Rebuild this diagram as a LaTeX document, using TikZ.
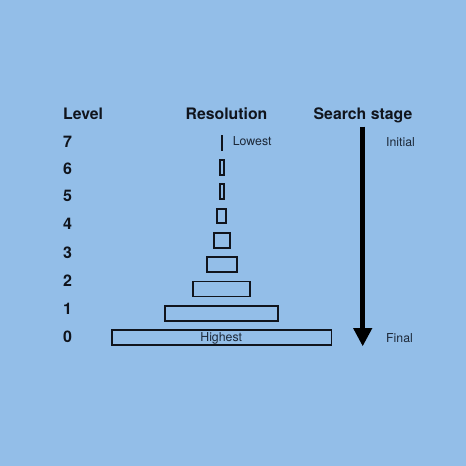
\documentclass[tikz,border=0pt]{standalone}
\usepackage{fontspec}
\setmainfont{TeX Gyre Heros}
\usetikzlibrary{arrows.meta}
\definecolor{bgblue}{RGB}{147,190,232}
\definecolor{ink}{RGB}{16,20,28}
\definecolor{softink}{RGB}{28,40,56}
\tikzset{
  head/.style={font=\fontsize{15.8}{18}\selectfont\bfseries, text=ink, inner sep=0pt, anchor=base},
  lvl/.style={font=\fontsize{16}{18}\selectfont\bfseries, text=ink, inner sep=0pt, anchor=west},
  small/.style={font=\fontsize{12.3}{14}\selectfont, text=softink, inner sep=0pt},
  res/.style={draw=ink, line width=1.9pt, inner sep=0pt, minimum height=15pt},
}
\begin{document}
\begin{tikzpicture}[x=1pt,y=-1pt]
\fill[bgblue] (0,0) rectangle (466,466);
\useasboundingbox (0,0) rectangle (466,466);
% headings
\node[head, anchor=base west] (hlevel) at (63,119.3) {Level};
\node[head] (hres) at (226.5,119.3) {Resolution};
\node[head] (hstage) at (363,119.3) {Search stage};
% level numbers
\node[lvl] (l7) at (63,141.5) {7};
\node[lvl] (l6) at (63,168.5) {6};
\node[lvl] (l5) at (63,196) {5};
\node[lvl] (l4) at (63,224) {4};
\node[lvl] (l3) at (63,252.5) {3};
\node[lvl] (l2) at (63,280.5) {2};
\node[lvl] (l1) at (63,309) {1};
\node[lvl] (l0) at (63,337) {0};
% resolution shapes
\coordinate (s0a) at (221.7,135);
\coordinate (s0b) at (221.7,151);
\draw[draw=ink, line width=1.9pt] (s0a) -- (s0b);
\node[res, minimum width=4pt, minimum height=15.5pt] (r1) at (221.7,167.5) {};
\node[res, minimum width=4pt] (r2) at (221.7,191.5) {};
\node[res, minimum width=8.7pt, minimum height=14.5pt] (r3) at (221.7,216) {};
\node[res, minimum width=16pt, minimum height=14.5pt] (r4) at (221.7,240.3) {};
\node[res, minimum width=30pt] (r5) at (221.7,264.5) {};
\node[res, minimum width=56.7pt] (r6) at (221.7,289) {};
\node[res, minimum width=112.7pt, minimum height=14.5pt] (r7) at (221.7,313.3) {};
\node[res, minimum width=219.6pt] (r8) at (221.7,337.5) {};
\node[small, anchor=base] (hi) at (221.2,341.7) {Highest};
\node[small, anchor=west] (lo) at (232.7,141.5) {Lowest};
% search stage arrow
\coordinate (atop) at (362.7,126.7);
\coordinate (abot) at (362.7,346);
\draw[draw=black, line width=4.6pt, -{Triangle[width=19.4pt,length=18pt,line width=0pt]}] (atop) -- (abot);
\node[small, anchor=west] (ini) at (386,141.7) {Initial};
\node[small, anchor=west] (fin) at (386,337.7) {Final};
\end{tikzpicture}
\end{document}
